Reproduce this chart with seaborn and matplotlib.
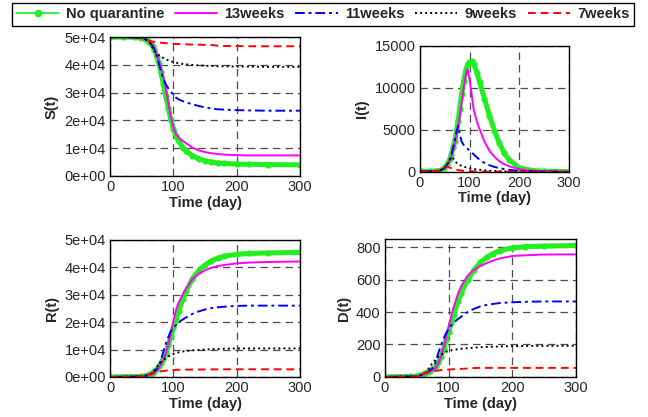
import matplotlib
matplotlib.use('Agg')
import matplotlib.pyplot as plt
import seaborn as sns
from matplotlib.lines import Line2D
from matplotlib.ticker import FuncFormatter

days = [0, 20, 40, 49, 55, 60, 63, 67, 70, 74, 77, 80, 84, 88, 92, 96, 100,
        104, 108, 115, 120, 130, 140, 150, 160, 170, 180, 200, 220, 250, 300]

series_names = ['No quarantine', '13weeks', '11weeks', '9weeks', '7weeks']

# S(t)
s_none = [50000, 50000, 49900, 49700, 49300, 48500, 47900, 46700, 45500, 42800, 40500, 37500, 33100, 28700, 24300, 20100, 17000,
          14500, 12600, 10200, 9000, 7300, 6200, 5500, 5000, 4700, 4500, 4300, 4200, 4100, 4000]
s_13w = [50000, 50000, 49900, 49700, 49400, 48800, 48300, 47300, 46000, 43600, 41500, 39000, 35800, 31500, 26500, 21000, 17500,
         15200, 13800, 12600, 11800, 10200, 9200, 8600, 8200, 7900, 7700, 7500, 7400, 7400, 7400]
s_11w = [50000, 50000, 49900, 49700, 49300, 48500, 47900, 46700, 45500, 42800, 40500, 37800, 35000, 33000, 31500, 30300, 29200,
         28200, 27600, 26900, 26500, 25800, 25200, 24700, 24300, 24000, 23900, 23700, 23600, 23500, 23500]
s_9w = [50000, 50000, 49900, 49700, 49300, 48500, 47900, 46300, 45000, 44000, 43500, 43000, 42500, 42000, 41600, 41300, 41000,
        40800, 40600, 40300, 40200, 40000, 39800, 39700, 39600, 39500, 39500, 39400, 39400, 39300, 39300]
s_7w = [50000, 50000, 49900, 49700, 49200, 48800, 48600, 48400, 48300, 48150, 48050, 48000, 47900, 47800, 47750, 47700, 47600,
        47500, 47500, 47450, 47400, 47300, 47300, 47200, 47200, 46900, 46800, 46800, 46700, 46700, 46700]

# I(t)
i_none = [100, 50, 150, 430, 900, 1490, 2000, 2900, 3700, 5000, 6100, 7500, 9300, 10800, 12000, 12800, 13100,
          13150, 12900, 11800, 10700, 8700, 6700, 4900, 3400, 2200, 1400, 500, 200, 60, 10]
i_13w = [100, 50, 150, 380, 800, 1290, 1700, 2600, 3300, 4500, 5300, 6500, 8200, 9900, 11400, 12200, 11000,
         9300, 7500, 5900, 5100, 3600, 2500, 1800, 1250, 900, 650, 330, 150, 50, 10]
i_11w = [100, 50, 150, 430, 900, 1490, 2000, 2900, 3700, 4900, 5500, 4600, 3600, 3200, 2950, 2750, 2550,
         2300, 2100, 1700, 1450, 1050, 780, 580, 440, 320, 230, 120, 50, 20, 5]
i_9w = [100, 50, 150, 430, 900, 1400, 1800, 1600, 1300, 1050, 920, 820, 700, 610, 540, 480, 430,
        380, 340, 280, 240, 180, 130, 100, 70, 50, 40, 20, 10, 5, 0]
i_7w = [100, 50, 150, 430, 600, 500, 430, 350, 300, 250, 210, 180, 150, 120, 100, 85, 70,
        60, 50, 40, 30, 20, 15, 10, 8, 6, 5, 3, 2, 1, 0]

# R(t)
r_none = [0, 100, 150, 200, 400, 700, 950, 1400, 2000, 3000, 3900, 5000, 6700, 8500, 11600, 14800, 18000,
          20900, 23900, 28300, 31200, 35800, 38800, 40800, 42300, 43300, 44000, 44700, 45000, 45200, 45400]
r_13w = [0, 100, 150, 200, 350, 550, 700, 950, 1500, 2500, 3300, 4500, 6300, 8500, 12000, 16000, 20500,
         24300, 27000, 30200, 32300, 35600, 37600, 38900, 39800, 40400, 40800, 41400, 41700, 41900, 42100]
r_11w = [0, 100, 150, 200, 400, 700, 950, 1400, 2000, 3000, 4000, 6000, 9200, 12200, 14600, 16700, 17900,
         18900, 19800, 21000, 21700, 23000, 23900, 24600, 25100, 25400, 25600, 25900, 26000, 26000, 26000]
r_9w = [0, 100, 150, 200, 400, 700, 1000, 1700, 2500, 3700, 4500, 5300, 6200, 6900, 7500, 8000, 8400,
        8700, 8950, 9300, 9450, 9700, 9850, 10000, 10100, 10200, 10300, 10400, 10400, 10400, 10400]
r_7w = [0, 100, 150, 200, 500, 900, 1150, 1400, 1600, 1800, 1950, 2050, 2200, 2300, 2400, 2500, 2550,
        2600, 2620, 2650, 2680, 2700, 2720, 2740, 2760, 2780, 2800, 2800, 2800, 2800, 2800]

# D(t)
d_none = [0, 2, 3, 4, 10, 17, 23, 30, 38, 48, 56, 66, 90, 125, 170, 225, 280,
          330, 380, 470, 520, 600, 660, 705, 738, 760, 778, 795, 802, 806, 810]
d_13w = [0, 2, 3, 4, 8, 14, 19, 26, 32, 40, 48, 58, 85, 125, 180, 240, 310,
         375, 430, 517, 560, 625, 660, 684, 702, 717, 730, 745, 749, 754, 755]
d_11w = [0, 2, 3, 4, 10, 17, 23, 30, 38, 52, 65, 95, 150, 195, 235, 270, 295,
         318, 335, 358, 372, 400, 420, 435, 444, 450, 455, 460, 463, 465, 465]
d_9w = [0, 2, 3, 4, 10, 17, 24, 40, 60, 82, 95, 108, 125, 137, 147, 155, 160,
        164, 167, 171, 174, 177, 180, 183, 185, 186, 188, 190, 191, 192, 192]
d_7w = [0, 2, 3, 4, 12, 20, 25, 29, 31, 34, 36, 38, 40, 42, 44, 45, 46,
        47, 48, 49, 50, 52, 55, 56, 56, 56, 56, 56, 56, 56, 56]

colors = ['#22ee22', '#ff00ff', '#0000ff', '#000000', '#ff0000']
styles = ['-', '-', (0, (5, 2, 1.5, 2)), (0, (1, 1.6)), (0, (4, 2.5))]

sns.set_style('white')
plt.rcParams['font.family'] = ['Liberation Sans', 'DejaVu Sans']

fig = plt.figure(figsize=(6.48, 4.17), dpi=100)

panels = [
    ([0.170, 0.578, 0.293, 0.333], 'S(t)', [s_none, s_13w, s_11w, s_9w, s_7w], 50000, [0, 10000, 20000, 30000, 40000, 50000], True),
    ([0.648, 0.588, 0.230, 0.302], 'I(t)', [i_none, i_13w, i_11w, i_9w, i_7w], 15000, [0, 5000, 10000, 15000], False),
    ([0.170, 0.096, 0.293, 0.329], 'R(t)', [r_none, r_13w, r_11w, r_9w, r_7w], 50000, [0, 10000, 20000, 30000, 40000, 50000], True),
    ([0.594, 0.096, 0.295, 0.331], 'D(t)', [d_none, d_13w, d_11w, d_9w, d_7w], 850, [0, 200, 400, 600, 800], False),
]

for rect, ylab, curves, ytop, yticks, sci in panels:
    ax = fig.add_axes(rect)
    for k, vals in enumerate(curves):
        if k == 0:
            sns.lineplot(x=days, y=vals, ax=ax, color=colors[0], lw=3.6,
                         marker='o', markersize=4.5, markeredgewidth=0)
        else:
            sns.lineplot(x=days, y=vals, ax=ax, color=colors[k], lw=1.4,
                         linestyle=styles[k])
    ax.set_xlim(0, 300)
    ax.set_ylim(0, ytop)
    ax.set_xticks([0, 100, 200, 300])
    ax.set_yticks(yticks)
    if sci:
        ax.yaxis.set_major_formatter(FuncFormatter(lambda v, p: f'{v:.0e}'))
    ax.grid(True, color='0.3', linestyle=(0, (6, 4)), lw=0.9)
    ax.set_axisbelow(True)
    for sp in ax.spines.values():
        sp.set_color('black')
        sp.set_linewidth(1.0)
    ax.tick_params(direction='in', length=3, labelsize=10.5, pad=3, color='black')
    ax.set_xlabel('Time (day)', fontsize=10.5, fontweight='bold', labelpad=1)
    ax.set_ylabel(ylab, fontsize=10.5, fontweight='bold', labelpad=4)

handles = [Line2D([], [], color=colors[0], lw=1.2, marker='o', markersize=4.5)]
handles += [Line2D([], [], color=colors[k], lw=1.4, linestyle=styles[k]) for k in range(1, 5)]
fig.legend(handles, series_names, loc='upper left', ncol=5, mode='expand',
           bbox_to_anchor=(12 / 648, 1 - 27 / 417, 622 / 648, 24 / 417),
           prop={'weight': 'bold', 'size': 10.5}, frameon=True, fancybox=False,
           edgecolor='black', framealpha=1, handlelength=2.9, handletextpad=0.5,
           columnspacing=0.8, borderpad=0.3, borderaxespad=0)

fig.savefig('out.png', dpi=100)
